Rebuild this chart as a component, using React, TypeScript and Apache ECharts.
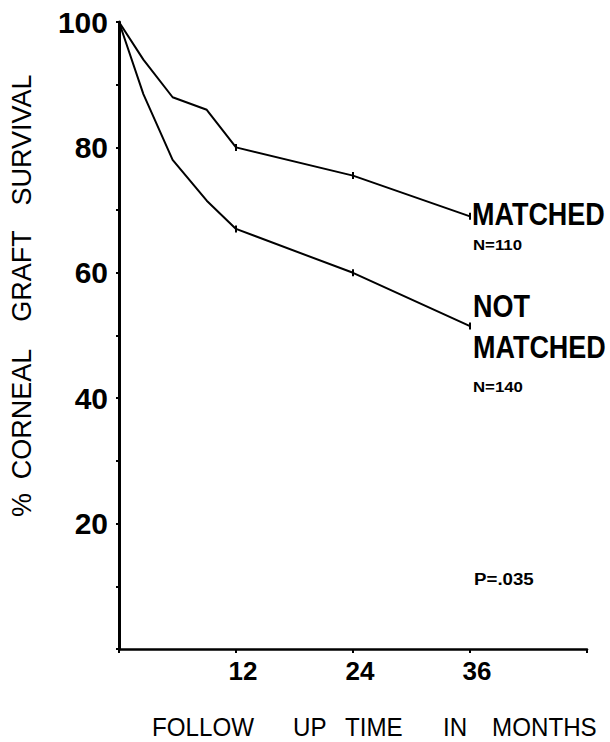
import React, { useEffect, useRef } from "react";
import * as echarts from "echarts";

const months = [0, 2.5, 5.5, 9, 12, 24, 36];
const matched = [100, 94, 88, 86, 80, 75.5, 69];
const notMatched = [100, 88.5, 78, 71.5, 67, 60, 51.5];
const markedMonths = [12, 24, 36];
const yLabelValues = [20, 40, 60, 80, 100];
const xLabelValues = [12, 24, 36];
const xTitleWords = ["FOLLOW", "UP", "TIME", "IN", "MONTHS"];
const yTitleWords = ["%", "CORNEAL", "GRAFT", "SURVIVAL"];

const FONT = "'Liberation Sans', Arial, Helvetica, sans-serif";

const xTitleX = [152, 293, 345, 443, 492];
const yTitleY = [505, 414, 276, 140];

function buildData(values: number[]) {
  return months.map((m, i) =>
    markedMonths.includes(m)
      ? { value: [m, values[i]], symbol: "rect", symbolSize: [2, 7] }
      : { value: [m, values[i]] }
  );
}

function txt(x: number, y: number, text: string, size: number, weight: string, sx = 1) {
  return {
    type: "text",
    x,
    y,
    scaleX: sx,
    style: {
      text,
      fontSize: size,
      fontWeight: weight,
      fontFamily: FONT,
      fill: "#000",
      textAlign: "left",
      textVerticalAlign: "middle",
    },
  };
}

export default function App() {
  const ref = useRef<HTMLDivElement>(null);
  useEffect(() => {
    if (!ref.current) return;
    const chart = echarts.init(ref.current, null, { renderer: "svg" });
    const graphics: any[] = [
      txt(472, 214, "MATCHED", 31, "bold", 0.87),
      txt(473, 245, "N=110", 15, "bold", 1.12),
      txt(473, 306, "NOT", 31, "bold", 0.87),
      txt(473, 347, "MATCHED", 31, "bold", 0.87),
      txt(473, 387, "N=140", 15, "bold", 1.12),
      txt(474, 579, "P=.035", 17, "bold", 1.1),
    ];
    xTitleWords.forEach((w, i) => graphics.push(txt(xTitleX[i], 727, w, 26, "normal", 0.93)));
    yTitleWords.forEach((w, i) =>
      graphics.push({
        type: "text",
        x: 22,
        y: yTitleY[i],
        rotation: Math.PI / 2,
        style: {
          text: w,
          fontSize: 27,
          fontWeight: "normal",
          fontFamily: FONT,
          fill: "#000",
          textAlign: "center",
          textVerticalAlign: "middle",
        },
      })
    );
    chart.setOption({
      animation: false,
      backgroundColor: "#fff",
      grid: { left: 119, right: 23, top: 22, bottom: 93 },
      xAxis: {
        type: "value",
        min: 0,
        max: 48,
        interval: 12,
        splitLine: { show: false },
        axisLine: { show: true, lineStyle: { color: "#000", width: 2.5 } },
        axisTick: { show: true, length: 4, lineStyle: { color: "#000", width: 2 } },
        axisLabel: {
          margin: 9,
          padding: [0, 0, 0, 14],
          color: "#000",
          fontSize: 26,
          fontWeight: "bold",
          fontFamily: FONT,
          formatter: (v: number) => (xLabelValues.includes(v) ? String(v) : ""),
        },
      },
      yAxis: {
        type: "value",
        min: 0,
        max: 100,
        interval: 10,
        splitLine: { show: false },
        axisLine: { show: true, lineStyle: { color: "#000", width: 3 } },
        axisTick: { show: true, length: 3, lineStyle: { color: "#000", width: 2 } },
        axisLabel: {
          margin: 11,
          color: "#000",
          fontSize: 30,
          fontWeight: "bold",
          fontFamily: FONT,
          formatter: (v: number) => (yLabelValues.includes(v) ? String(v) : ""),
        },
      },
      series: [
        {
          name: "MATCHED",
          type: "line",
          data: buildData(matched),
          symbol: "none",
          lineStyle: { color: "#000", width: 2 },
          itemStyle: { color: "#000" },
        },
        {
          name: "NOT MATCHED",
          type: "line",
          data: buildData(notMatched),
          symbol: "none",
          lineStyle: { color: "#000", width: 2 },
          itemStyle: { color: "#000" },
        },
      ],
      graphic: graphics,
    });
    return () => chart.dispose();
  }, []);
  return (
    <div
      ref={ref}
      style={{ position: "fixed", left: 0, top: 0, width: 610, height: 742, background: "#fff" }}
    />
  );
}
